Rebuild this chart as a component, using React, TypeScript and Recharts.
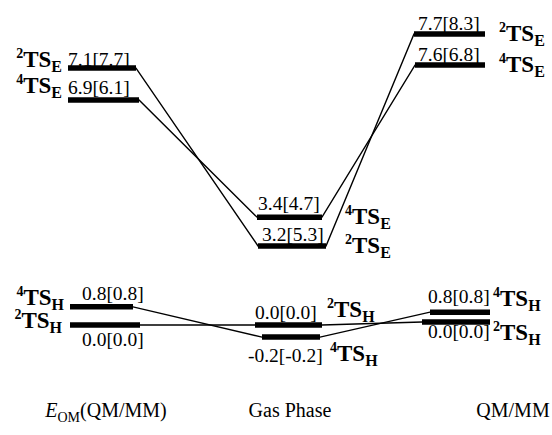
import React from 'react';
import { ComposedChart, Line, XAxis, YAxis, ReferenceLine, ReferenceDot } from 'recharts';

// reaction stages (x axis)
const STAGES = ['E_OM(QM/MM)', 'Gas Phase', 'QM/MM'];

// the four transition states: spin multiplicity + subscript
const STATE_SPIN = ['2', '4', '2', '4'];
const STATE_SUB = ['E', 'E', 'H', 'H'];

// relative energies (kcal/mol) printed on the diagram: value[bracket value]
const E_2TSE = [7.1, 3.2, 7.7];
const E_2TSE_BR = [7.7, 5.3, 8.3];
const E_4TSE = [6.9, 3.4, 7.6];
const E_4TSE_BR = [6.1, 4.7, 6.8];
const E_2TSH = [0.0, 0.0, 0.0];
const E_2TSH_BR = [0.0, 0.0, 0.0];
const E_4TSH = [0.8, -0.2, 0.8];
const E_4TSH_BR = [0.8, -0.2, 0.8];

// heights the levels are drawn at (schematic, spread apart for legibility)
const LEVEL_2TSE = [6.79, 2.09, 7.69];
const LEVEL_4TSE = [5.95, 2.85, 6.87];
const LEVEL_2TSH = [0.0, 0.0, 0.08];
const LEVEL_4TSH = [0.48, -0.32, 0.34];

const STATES = [
  { e: E_2TSE, br: E_2TSE_BR, level: LEVEL_2TSE },
  { e: E_4TSE, br: E_4TSE_BR, level: LEVEL_4TSE },
  { e: E_2TSH, br: E_2TSH_BR, level: LEVEL_2TSH },
  { e: E_4TSH, br: E_4TSH_BR, level: LEVEL_4TSH },
].map((s, i) => ({ ...s, spin: STATE_SPIN[i], sub: STATE_SUB[i] }));

// ---- layout (x axis runs in plot pixels) ----
const W = 552;
const H = 435;
const AXIS_H = 40;
const Y_DOMAIN = [-1.85, 8.59];
const FONT = "'Liberation Serif', 'Times New Roman', Times, serif";
const STAGE_LABEL_X = [106, 290, 513];

// bar extents per state, per stage
const BAR_SPAN = [
  [[68, 136], [258, 326], [414, 485]],
  [[68, 139], [257, 322], [415, 485]],
  [[70, 140], [255, 322], [422, 490]],
  [[70, 133], [262, 320], [430, 490]],
];
// energy text: [x, baseline offset from bar]
const VALUE_POS = [
  [[68, -2], [262, -5], [418, -4]],
  [[68, -6], [258, -7], [418, -4]],
  [[82, 21], [255, -6], [428, 16]],
  [[82, -7], [248, 25], [428, -9]],
];
// state name: [x, baseline offset, anchor]
const NAME_POS: [number, number, 'start' | 'end'][][] = [
  [[62, -1, 'end'], [345, 7, 'start'], [499, 7, 'start']],
  [[62, -7, 'end'], [345, 7, 'start'], [499, 7, 'start']],
  [[62, 3, 'end'], [327, -8, 'start'], [493, 18, 'start']],
  [[64, -2, 'end'], [330, 24, 'start'], [493, -6, 'start']],
];

const fmt = (a: number, b: number) => `${a.toFixed(1)}[${b.toFixed(1)}]`;

const StageTick = (props: any) => {
  const { x, y, payload } = props;
  const i = STAGE_LABEL_X.indexOf(payload.value);
  const common = { x, y: y + 14, textAnchor: 'middle' as const, style: { fontFamily: FONT }, fontSize: 20, fill: '#000' };
  if (i === 0) {
    return (
      <text {...common}>
        <tspan fontStyle="italic">E</tspan>
        <tspan fontSize={14} dy={5}>OM</tspan>
        <tspan dy={-5}>(QM/MM)</tspan>
      </text>
    );
  }
  return <text {...common}>{STAGES[i]}</text>;
};

export default function App() {
  return (
    <div style={{ position: 'absolute', left: 0, top: 0, width: W, height: H, background: '#fff' }}>
      <ComposedChart width={W} height={H} margin={{ top: 0, right: 0, bottom: 0, left: 0 }}>
        <XAxis
          type="number"
          dataKey="x"
          domain={[0, W]}
          ticks={STAGE_LABEL_X}
          tick={<StageTick />}
          axisLine={false}
          tickLine={false}
          height={AXIS_H}
          allowDataOverflow
        />
        <YAxis type="number" domain={Y_DOMAIN} hide allowDataOverflow />
        {STATES.map((s, si) => (
          <Line
            key={`c${si}`}
            data={s.level.flatMap((lv, i) => [
              { x: BAR_SPAN[si][i][0], y: lv },
              { x: BAR_SPAN[si][i][1], y: lv },
            ])}
            dataKey="y"
            type="linear"
            stroke="#000"
            strokeWidth={1.4}
            dot={false}
            activeDot={false}
            isAnimationActive={false}
          />
        ))}
        {STATES.map((s, si) =>
          s.level.map((lv, i) => (
            <ReferenceLine
              key={`b${si}-${i}`}
              segment={[
                { x: BAR_SPAN[si][i][0], y: lv },
                { x: BAR_SPAN[si][i][1], y: lv },
              ]}
              stroke="#000"
              strokeWidth={5.5}
            />
          ))
        )}
        {STATES.map((s, si) =>
          s.level.map((lv, i) => (
            <ReferenceDot
              key={`v${si}-${i}`}
              x={VALUE_POS[si][i][0]}
              y={lv}
              r={1}
              shape={(p: any) => (
                <text
                  x={p.cx}
                  y={p.cy + VALUE_POS[si][i][1]}
                  style={{ fontFamily: FONT, fontSize: 19.5 }}
                  fill="#000"
                >
                  {fmt(s.e[i], s.br[i])}
                </text>
              )}
            />
          ))
        )}
        {STATES.map((s, si) =>
          s.level.map((lv, i) => (
            <ReferenceDot
              key={`n${si}-${i}`}
              x={NAME_POS[si][i][0]}
              y={lv}
              r={1}
              shape={(p: any) => (
                <text
                  x={p.cx}
                  y={p.cy + NAME_POS[si][i][1]}
                  textAnchor={NAME_POS[si][i][2]}
                  style={{ fontFamily: FONT, fontWeight: 'bold' }}
                  fill="#000"
                >
                  <tspan fontSize={14} dy={-9}>{s.spin}</tspan>
                  <tspan fontSize={23} dy={9}>TS</tspan>
                  <tspan fontSize={16} dy={5}>{s.sub}</tspan>
                </text>
              )}
            />
          ))
        )}
      </ComposedChart>
    </div>
  );
}
